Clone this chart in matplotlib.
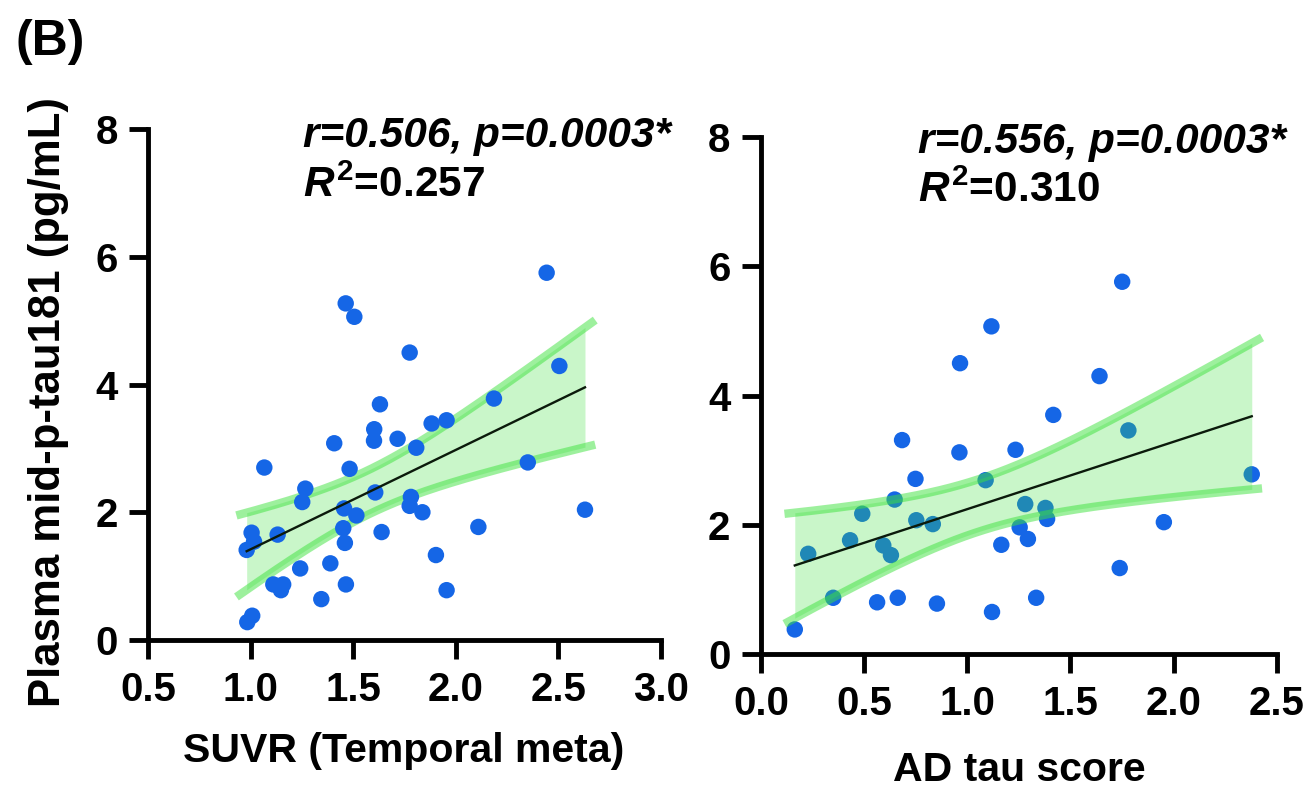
import matplotlib
matplotlib.use('Agg')
import matplotlib.pyplot as plt
import numpy as np

plt.rcParams['font.family'] = ['Liberation Sans', 'DejaVu Sans']
plt.rcParams['font.weight'] = 'bold'
plt.rcParams['mathtext.fontset'] = 'custom'
plt.rcParams['mathtext.it'] = 'Liberation Sans:italic:bold'
plt.rcParams['mathtext.rm'] = 'Liberation Sans:bold'
plt.rcParams['mathtext.bf'] = 'Liberation Sans:bold'

# left panel: SUVR (Temporal meta) vs plasma mid-p-tau181
suvr = [2.443, 1.463, 1.505, 1.775, 2.505, 1.630, 2.186, 1.882, 1.955, 1.602,
        1.601, 1.407, 1.716, 1.807, 1.066, 1.482, 2.351, 1.266, 1.251, 1.607,
        1.781, 1.775, 1.837, 1.455, 1.515, 1.451, 2.630, 2.110, 1.131, 1.638,
        1.004, 1.016, 0.980, 1.459, 1.903, 1.388, 1.241, 1.110, 1.158, 1.147,
        1.464, 1.344, 1.955, 1.007, 0.983]
ptau_suvr = [5.75, 5.27, 5.06, 4.50, 4.29, 3.69, 3.78, 3.39, 3.44, 3.30,
             3.12, 3.08, 3.15, 3.01, 2.70, 2.68, 2.78, 2.37, 2.16, 2.31,
             2.24, 2.10, 2.00, 2.06, 1.95, 1.75, 2.04, 1.77, 1.65, 1.69,
             1.68, 1.54, 1.41, 1.52, 1.33, 1.20, 1.12, 0.87, 0.87, 0.78,
             0.87, 0.64, 0.78, 0.38, 0.28]

# right panel: AD tau score vs plasma mid-p-tau181
tau_score = [1.751, 1.117, 0.965, 1.641, 1.417, 1.781, 0.684, 0.962, 1.234, 0.749,
             1.089, 2.379, 0.648, 0.491, 1.281, 1.379, 1.387, 0.753, 0.833, 1.254,
             1.953, 0.432, 1.294, 1.165, 0.593, 0.630, 0.229, 1.739, 0.350, 0.663,
             0.563, 0.853, 1.334, 1.120, 0.164]
ptau_tau = [5.76, 5.07, 4.50, 4.30, 3.70, 3.46, 3.31, 3.12, 3.16, 2.71,
            2.69, 2.78, 2.39, 2.17, 2.32, 2.26, 2.09, 2.07, 2.01, 1.96,
            2.04, 1.76, 1.78, 1.69, 1.68, 1.53, 1.55, 1.33, 0.87, 0.87,
            0.80, 0.78, 0.87, 0.65, 0.38]

y_ticks = [0, 2, 4, 6, 8]
x_ticks_left = [0.5, 1.0, 1.5, 2.0, 2.5, 3.0]
x_ticks_right = [0.0, 0.5, 1.0, 1.5, 2.0, 2.5]
t_crit_left = 2.017   # t(0.975, df=43)
t_crit_right = 2.035  # t(0.975, df=33)

stats_left = ['r=0.506, p=0.0003*', r'$R^2$=0.257']
stats_right = ['r=0.556, p=0.0003*', r'$R^2$=0.310']

dot_col = '#1566e6'
band_col = '#3de23d'


def draw_panel(ax, xv, yv, t_crit, band_on_top):
    x = np.asarray(xv)
    y = np.asarray(yv)
    n = len(x)
    slope, icpt = np.polyfit(x, y, 1)
    s = np.sqrt(np.sum((y - (slope * x + icpt)) ** 2) / (n - 2))
    sxx = np.sum((x - x.mean()) ** 2)

    xs = np.linspace(x.min(), x.max(), 200)
    half = t_crit * s * np.sqrt(1.0 / n + (xs - x.mean()) ** 2 / sxx)
    xe = np.linspace(x.min() - 0.05, x.max() + 0.05, 200)
    half_e = t_crit * s * np.sqrt(1.0 / n + (xe - x.mean()) ** 2 / sxx)

    zb = 5 if band_on_top else 1
    ax.fill_between(xs, slope * xs + icpt - half, slope * xs + icpt + half,
                    color=band_col, alpha=0.28, lw=0, zorder=zb)
    for sign in (1, -1):
        ax.plot(xe, slope * xe + icpt + sign * half_e, color=band_col,
                alpha=0.5, lw=6, solid_capstyle='butt', zorder=zb + 0.5)
    ax.scatter(x, y, s=140, color=dot_col, edgecolors='none', zorder=3)
    ax.plot(xs, slope * xs + icpt, color='#0b1a0b', lw=1.7, zorder=7)

    ax.spines['top'].set_visible(False)
    ax.spines['right'].set_visible(False)
    ax.spines['left'].set_linewidth(3.5)
    ax.spines['bottom'].set_linewidth(3.5)
    ax.tick_params(width=3.5, length=14, pad=8, labelsize=29)
    ax.set_ylim(0, 8)
    ax.set_yticks(y_ticks)
    ax.set_yticklabels([str(v) for v in y_ticks])


fig = plt.figure(figsize=(13.12, 7.91), dpi=100)

ax1 = fig.add_axes([0.1130, 0.1909, 0.3907, 0.6460])
draw_panel(ax1, suvr, ptau_suvr, t_crit_left, False)
ax1.set_xlim(0.5, 3.0)
ax1.set_xticks(x_ticks_left)
ax1.set_xticklabels(['%.1f' % v for v in x_ticks_left])

ax2 = fig.add_axes([0.5800, 0.1732, 0.3931, 0.6536])
draw_panel(ax2, tau_score, ptau_tau, t_crit_right, True)
ax2.set_xlim(0.0, 2.5)
ax2.set_xticks(x_ticks_right)
ax2.set_xticklabels(['%.1f' % v for v in x_ticks_right])

fig.text(0.0115, 1 - 55 / 791, '(B)', fontsize=36, fontweight='bold', va='baseline')
fig.text(0.0373, 0.4918, 'Plasma mid-p-tau181 (pg/mL)', rotation=90,
         fontsize=31.5, fontweight='bold', ha='center', va='center')
fig.text(404 / 1312, 1 - 762 / 791, 'SUVR (Temporal meta)', fontsize=29.5,
         fontweight='bold', ha='center', va='baseline')
fig.text(1019 / 1312, 1 - 781 / 791, 'AD tau score', fontsize=29.5,
         fontweight='bold', ha='center', va='baseline')

fig.text(303 / 1312, 1 - 146.7 / 791, stats_left[0], fontsize=30.5,
         fontweight='bold', fontstyle='italic', va='baseline')
fig.text(303 / 1312, 1 - 196.7 / 791, stats_left[1], fontsize=30.5,
         fontweight='bold', va='baseline')
fig.text(918 / 1312, 1 - 153.3 / 791, stats_right[0], fontsize=30.5,
         fontweight='bold', fontstyle='italic', va='baseline')
fig.text(918 / 1312, 1 - 201.7 / 791, stats_right[1], fontsize=30.5,
         fontweight='bold', va='baseline')

fig.savefig('out.png', dpi=100)
